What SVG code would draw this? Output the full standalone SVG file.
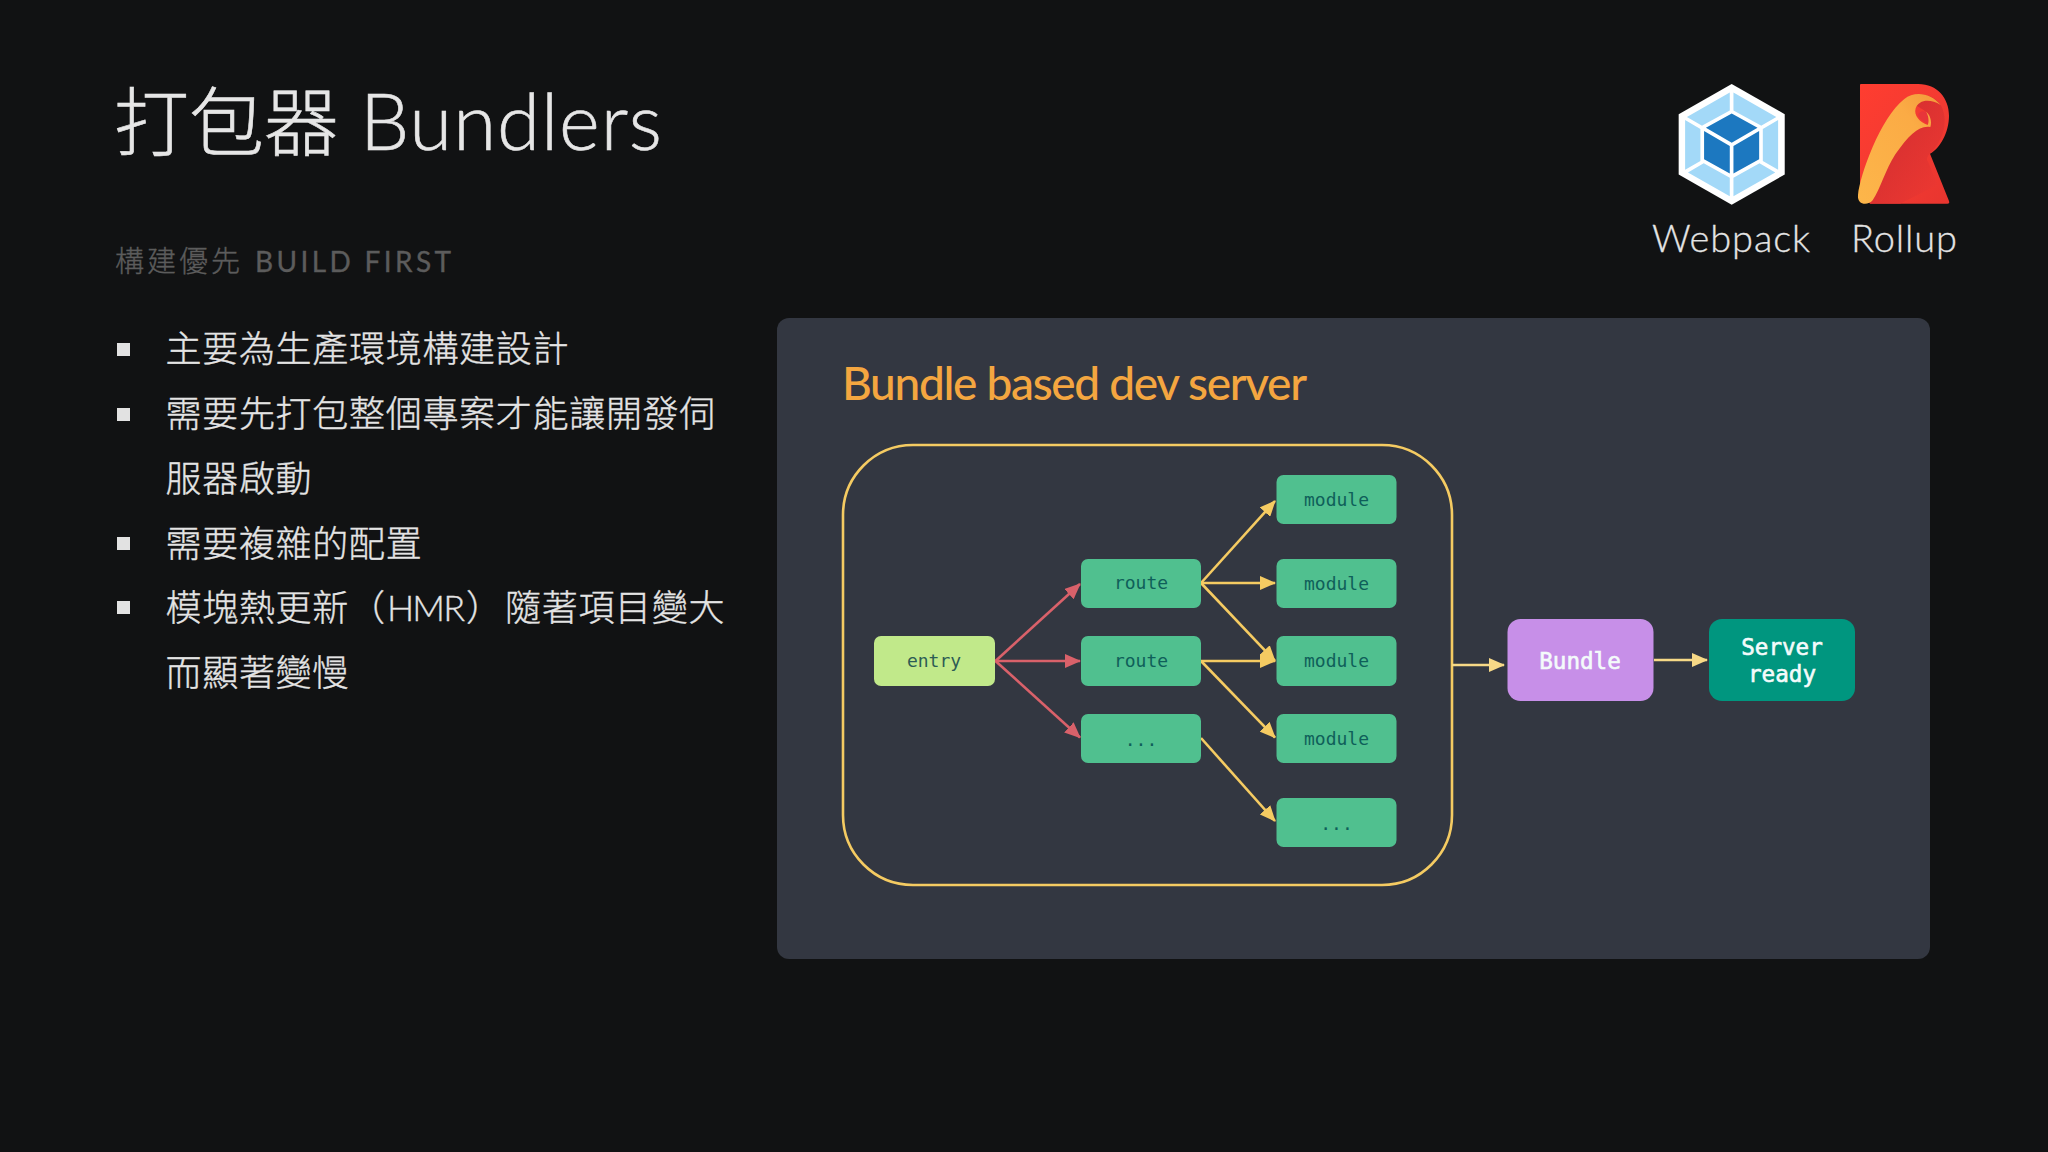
<svg xmlns="http://www.w3.org/2000/svg" width="2048" height="1152" viewBox="0 0 2048 1152">
<style>
.cjk{font-family:"Noto Sans CJK TC","Noto Sans CJK SC",sans-serif;font-weight:300}
.lat{font-family:"Lato","Noto Sans",sans-serif;font-weight:300}
.h{fill:#e6e6e6;stroke:#e6e6e6;stroke-width:.6px;font-size:75px}
.sub{fill:#5c5c5c;stroke:#5c5c5c;stroke-width:.35px;font-size:29px}
.li{fill:#e4e4e4;stroke:#e4e4e4;stroke-width:.35px;font-size:36px;letter-spacing:.7px}
.b{fill:#e2e2e2}
.lg{fill:#e4e4e4;stroke:#e4e4e4;stroke-width:.3px;font-size:38px}
.n{fill:#50c08f}
.t{font-family:"DejaVu Sans Mono","Liberation Mono",monospace;font-size:18px;fill:#0f5f5a;text-anchor:middle}
.T{font-family:"DejaVu Sans Mono","Liberation Mono",monospace;font-size:22.6px;fill:#f4fbfb;stroke:#f4fbfb;stroke-width:.6px;text-anchor:middle}
.r{fill:none;stroke:#d9616a;stroke-width:2.6}
.y{fill:none;stroke:#f5cb62;stroke-width:2.6}
.p{fill:none;stroke:#f7d987;stroke-width:2.6}
</style>
<defs>
<marker id="mr" markerUnits="userSpaceOnUse" viewBox="0 0 16 14" refX="15" refY="7" markerWidth="16" markerHeight="14" orient="auto"><path d="M0 0L16 7L0 14z" fill="#d9616a"/></marker>
<marker id="my" markerUnits="userSpaceOnUse" viewBox="0 0 16 14" refX="15" refY="7" markerWidth="16" markerHeight="14" orient="auto"><path d="M0 0L16 7L0 14z" fill="#f5cb62"/></marker>
<marker id="mp" markerUnits="userSpaceOnUse" viewBox="0 0 16 14" refX="15" refY="7" markerWidth="16" markerHeight="14" orient="auto"><path d="M0 0L16 7L0 14z" fill="#f7d987"/></marker>
<linearGradient id="rg" x1="0" y1="0" x2="1" y2="1"><stop offset="0" stop-color="#ff3d30"/><stop offset=".55" stop-color="#f23a32"/><stop offset="1" stop-color="#e8352f"/></linearGradient>
<linearGradient id="ig" x1="0" y1="0" x2="1" y2="1"><stop offset="0" stop-color="#b9252f"/><stop offset="1" stop-color="#f23a32"/></linearGradient>
<linearGradient id="yg" x1="0" y1="1" x2="1" y2="0"><stop offset="0" stop-color="#fdb64a"/><stop offset=".7" stop-color="#fbab45"/><stop offset="1" stop-color="#f2993a"/></linearGradient>
</defs>
<rect width="2048" height="1152" fill="#111213"/>
<g id="title"><text class="cjk h" x="114" y="150">打包器</text><text class="lat h" x="360" y="150" textLength="302" style="font-size:78px">Bundlers</text></g>
<g id="subtitle"><text class="cjk sub" x="115" y="272" letter-spacing="3">構建優先</text><text class="lat sub" x="255" y="272" textLength="196" style="font-size:28px;font-weight:400">BUILD FIRST</text></g>
<g id="bullets">
<rect class="b" x="117" y="343" width="13" height="13"/><rect class="b" x="117" y="408" width="13" height="13"/><rect class="b" x="117" y="537" width="13" height="13"/><rect class="b" x="117" y="601" width="13" height="13"/>
<text class="cjk li" x="165.5" y="362">主要為生產環境構建設計</text>
<text class="cjk li" x="165.5" y="427">需要先打包整個專案才能讓開發伺</text>
<text class="cjk li" x="165.5" y="492">服器啟動</text>
<text class="cjk li" x="165.5" y="557">需要複雜的配置</text>
<text class="cjk li" x="165.5" y="621">模塊熱更新（<tspan class="lat" x="387" style="letter-spacing:0" textLength="78">HMR</tspan><tspan x="466">）</tspan><tspan x="505">隨著項目變大</tspan></text>
<text class="cjk li" x="165.5" y="686">而顯著變慢</text>
</g>
<g id="webpack-logo" transform="translate(1671.7,84) scale(.1,.1006)">
<path fill="#fff" d="M600 0l530.3 300v600L600 1200 69.7 900V300z"/>
<path fill="#a3d9f8" d="M1035.6 879.3l-418.1 236.5V931.6L878 788.3zm28.6-25.9V358.8l-153 88.3V765zm-901.5 25.9l418.1 236.5V931.6L320.3 788.3zm-28.6-25.9V358.8l153 88.3V765zM152 326.8L580.8 84.2v178.1L306.1 413.4l-2.1 1.2zm894.3 0L617.5 84.2v178.1l274.7 151.1 2.1 1.2z"/>
<path fill="#1c78c0" d="M580.8 889.7l-257-141.3v-280l257 148.4zm36.7 0l257-141.3v-280l-257 148.4zm-275.3-453.8l258-141.9 258 141.9-258 149-258-149z"/>
</g>
<g id="rollup-logo" transform="translate(1850,75) scale(.33333)">
<path fill="url(#rg)" d="M30 30Q30 27 33 27L205 27C262 27 297 70 297 122C297 172 270 220 240 236L297 378Q300 386 292 386L60 386L30 340z"/>
<path fill="url(#ig)" d="M165 75C200 48 250 55 272 90C290 120 292 175 250 225C235 240 225 250 235 262L262 330L150 386L60 386L130 235C170 170 205 150 240 155C243 135 235 115 228 110C205 95 190 85 165 75z" opacity=".7"/>
<path fill="#e8353a" d="M205 118C210 106 226 106 232 116C237 126 238 140 236 148C225 142 203 130 205 118z"/>
<path fill="url(#yg)" d="M24 360C30 300 90 130 163 72C192 48 242 52 272 90C240 70 206 74 197 100C190 122 210 142 233 150C238 140 236 122 228 110C240 118 247 140 241 156C208 150 178 178 136 238C106 284 92 340 68 376C55 392 21 392 24 360z"/>
</g>
<g id="logo-labels"><text class="lat lg" x="1652" y="252" textLength="158">Webpack</text><text class="lat lg" x="1851" y="252" textLength="106">Rollup</text></g>
<g id="panel"><rect x="777" y="318" width="1153" height="641" rx="12" fill="#333741"/></g>
<text id="panel-title" x="842" y="400" textLength="465" style="font-family:Lato,sans-serif;font-size:46px;font-weight:500;fill:#f4a640">Bundle based dev server</text>
<g id="group-box"><rect x="843" y="445" width="609" height="440" rx="70" fill="none" stroke="#f5cb62" stroke-width="2.6"/></g>
<g id="connectors">
<path class="r" marker-end="url(#mr)" d="M995.5 661L1080 584"/>
<path class="r" marker-end="url(#mr)" d="M995.5 661L1080 661"/>
<path class="r" marker-end="url(#mr)" d="M995.5 661L1080 737.5"/>
<path class="y" marker-end="url(#my)" d="M1201 583L1275 501"/>
<path class="y" marker-end="url(#my)" d="M1201 583L1275 583"/>
<path class="y" marker-end="url(#my)" d="M1201 583L1275 661"/>
<path class="y" marker-end="url(#my)" d="M1201 661L1275 661"/>
<path class="y" marker-end="url(#my)" d="M1201 661L1275 737.5"/>
<path class="y" marker-end="url(#my)" d="M1201 738L1275 821"/>
<path class="p" marker-end="url(#mp)" d="M1452 665L1504 665"/>
<path class="p" marker-end="url(#mp)" d="M1654 660L1707 660"/>
</g>
<g id="entry"><rect x="874" y="636" width="121" height="50" rx="7" fill="#c1e98a"/><text class="t" x="934" y="667" style="fill:#2d5c55">entry</text></g>
<g id="route1"><rect class="n" x="1081" y="559" width="120" height="49" rx="7"/><text class="t" x="1141" y="589">route</text></g>
<g id="route2"><rect class="n" x="1081" y="636" width="120" height="50" rx="7"/><text class="t" x="1141" y="667">route</text></g>
<g id="route3"><rect class="n" x="1081" y="714" width="120" height="49" rx="7"/><text class="t" x="1141" y="746">...</text></g>
<g id="module1"><rect class="n" x="1276.5" y="475" width="120" height="49" rx="7"/><text class="t" x="1336.5" y="506">module</text></g>
<g id="module2"><rect class="n" x="1276.5" y="559" width="120" height="49" rx="7"/><text class="t" x="1336.5" y="589.5">module</text></g>
<g id="module3"><rect class="n" x="1276.5" y="636" width="120" height="50" rx="7"/><text class="t" x="1336.5" y="667">module</text></g>
<g id="module4"><rect class="n" x="1276.5" y="714" width="120" height="49" rx="7"/><text class="t" x="1336.5" y="745">module</text></g>
<g id="module5"><rect class="n" x="1276.5" y="798" width="120" height="49" rx="7"/><text class="t" x="1336.5" y="830">...</text></g>
<g id="bundle"><rect x="1507.5" y="619" width="146" height="82" rx="13" fill="#c78fe8"/><text class="T" x="1580" y="668.5">Bundle</text></g>
<g id="server"><rect x="1709" y="619" width="146" height="82" rx="13" fill="#00967f"/><text class="T" x="1782" y="655">Server</text><text class="T" x="1782" y="682">ready</text></g>
</svg>
